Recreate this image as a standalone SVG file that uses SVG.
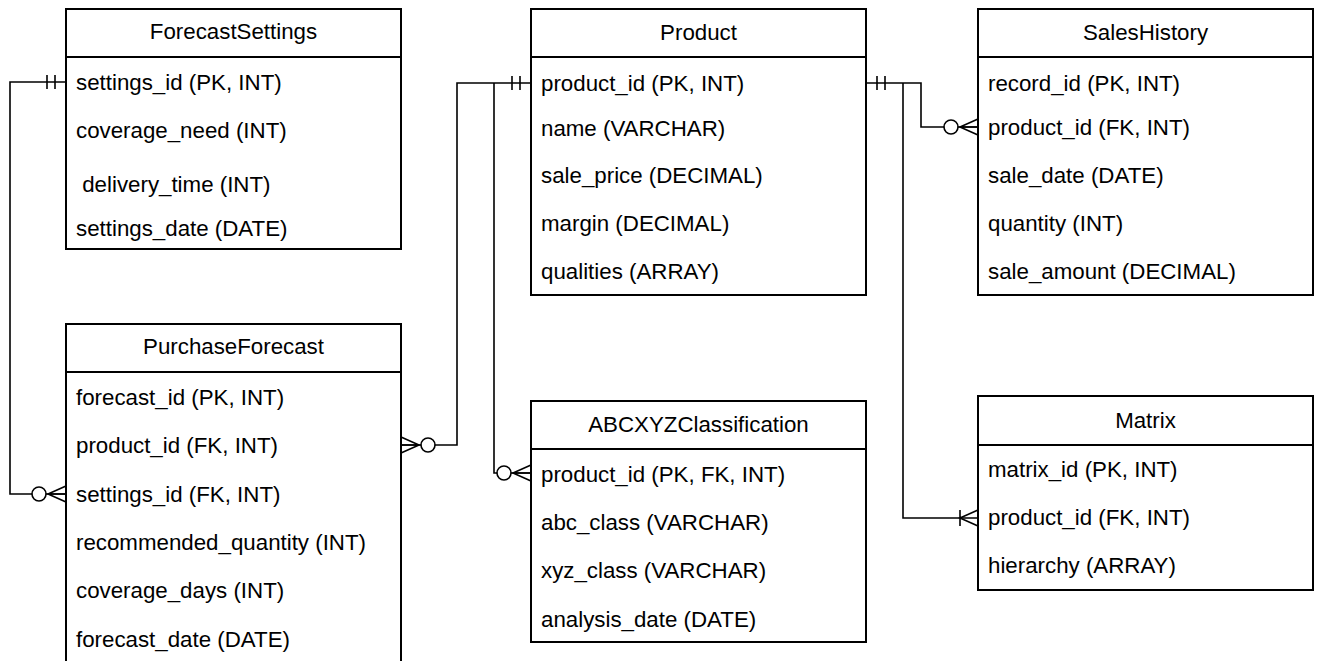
<svg xmlns="http://www.w3.org/2000/svg" xmlns:xlink="http://www.w3.org/1999/xlink" width="1324" height="661" viewBox="0 0 1324 661">
<style>
.box{fill:#fff;stroke:#000;stroke-width:2}
.sep{stroke:#000;stroke-width:2}
.t{font-family:"Liberation Sans",Arial,sans-serif;font-size:22.3px;fill:#000}
.h{text-anchor:middle}
.c{fill:none;stroke:#000;stroke-width:1.6}
.m{fill:none;stroke:#000;stroke-width:1.6}
.o{fill:#fff;stroke:#000;stroke-width:1.6}
</style>
<defs>
<g id="one"><path class="m" d="M-11,-7V7M-19,-7V7"/></g>
<g id="zeroMany"><path class="m" d="M0,-8L-18,0L0,8M-18,0H0"/><circle class="o" cx="-27" cy="0" r="7"/></g>
<g id="oneMany"><path class="m" d="M0,-8L-18,0L0,8M-18,-8V8"/></g>
</defs>
<rect width="1324" height="661" fill="#fff"/>
<g id="connectors">
<path class="c" d="M66,82H10V494H66"/>
<path class="c" d="M531,83H457V445H401"/>
<path class="c" d="M494,83V473H531"/>
<path class="c" d="M866,83H921V127H978"/>
<path class="c" d="M903,83V518H978"/>
<use xlink:href="#one" transform="translate(66,82)"/>
<use xlink:href="#zeroMany" transform="translate(66,494)"/>
<use xlink:href="#one" transform="translate(531,83)"/>
<use xlink:href="#zeroMany" transform="translate(401,445) scale(-1,1)"/>
<use xlink:href="#zeroMany" transform="translate(531,473)"/>
<use xlink:href="#one" transform="translate(866,83) scale(-1,1)"/>
<use xlink:href="#zeroMany" transform="translate(978,127)"/>
<use xlink:href="#oneMany" transform="translate(978,518)"/>
</g>
<g id="ForecastSettings">
<rect class="box" x="66" y="9" width="335" height="240"/>
<line class="sep" x1="66" y1="57" x2="401" y2="57"/>
<text class="t h" x="233.5" y="39">ForecastSettings</text>
<text class="t" x="76" y="90">settings_id (PK, INT)</text>
<text class="t" x="76" y="138">coverage_need (INT)</text>
<text class="t" x="76" y="192" xml:space="preserve" style="white-space:pre"> delivery_time (INT)</text>
<text class="t" x="76" y="236">settings_date (DATE)</text>
</g>
<g id="Product">
<rect class="box" x="531" y="9" width="335" height="286"/>
<line class="sep" x1="531" y1="57" x2="866" y2="57"/>
<text class="t h" x="698.5" y="40">Product</text>
<text class="t" x="541" y="91">product_id (PK, INT)</text>
<text class="t" x="541" y="136">name (VARCHAR)</text>
<text class="t" x="541" y="183">sale_price (DECIMAL)</text>
<text class="t" x="541" y="231">margin (DECIMAL)</text>
<text class="t" x="541" y="279">qualities (ARRAY)</text>
</g>
<g id="SalesHistory">
<rect class="box" x="978" y="9" width="335" height="286"/>
<line class="sep" x1="978" y1="57" x2="1313" y2="57"/>
<text class="t h" x="1145.5" y="40">SalesHistory</text>
<text class="t" x="988" y="91">record_id (PK, INT)</text>
<text class="t" x="988" y="135">product_id (FK, INT)</text>
<text class="t" x="988" y="183">sale_date (DATE)</text>
<text class="t" x="988" y="231">quantity (INT)</text>
<text class="t" x="988" y="279">sale_amount (DECIMAL)</text>
</g>
<g id="PurchaseForecast">
<rect class="box" x="66" y="324" width="335" height="345"/>
<line class="sep" x1="66" y1="372" x2="401" y2="372"/>
<text class="t h" x="233.5" y="354">PurchaseForecast</text>
<text class="t" x="76" y="405">forecast_id (PK, INT)</text>
<text class="t" x="76" y="453">product_id (FK, INT)</text>
<text class="t" x="76" y="502">settings_id (FK, INT)</text>
<text class="t" x="76" y="550">recommended_quantity (INT)</text>
<text class="t" x="76" y="598">coverage_days (INT)</text>
<text class="t" x="76" y="647">forecast_date (DATE)</text>
</g>
<g id="ABCXYZClassification">
<rect class="box" x="531" y="401" width="335" height="241"/>
<line class="sep" x1="531" y1="449" x2="866" y2="449"/>
<text class="t h" x="698.5" y="432">ABCXYZClassification</text>
<text class="t" x="541" y="482">product_id (PK, FK, INT)</text>
<text class="t" x="541" y="530">abc_class (VARCHAR)</text>
<text class="t" x="541" y="578">xyz_class (VARCHAR)</text>
<text class="t" x="541" y="627">analysis_date (DATE)</text>
</g>
<g id="Matrix">
<rect class="box" x="978" y="396" width="335" height="194"/>
<line class="sep" x1="978" y1="445" x2="1313" y2="445"/>
<text class="t h" x="1145.5" y="428">Matrix</text>
<text class="t" x="988" y="477">matrix_id (PK, INT)</text>
<text class="t" x="988" y="525">product_id (FK, INT)</text>
<text class="t" x="988" y="573">hierarchy (ARRAY)</text>
</g>
</svg>
